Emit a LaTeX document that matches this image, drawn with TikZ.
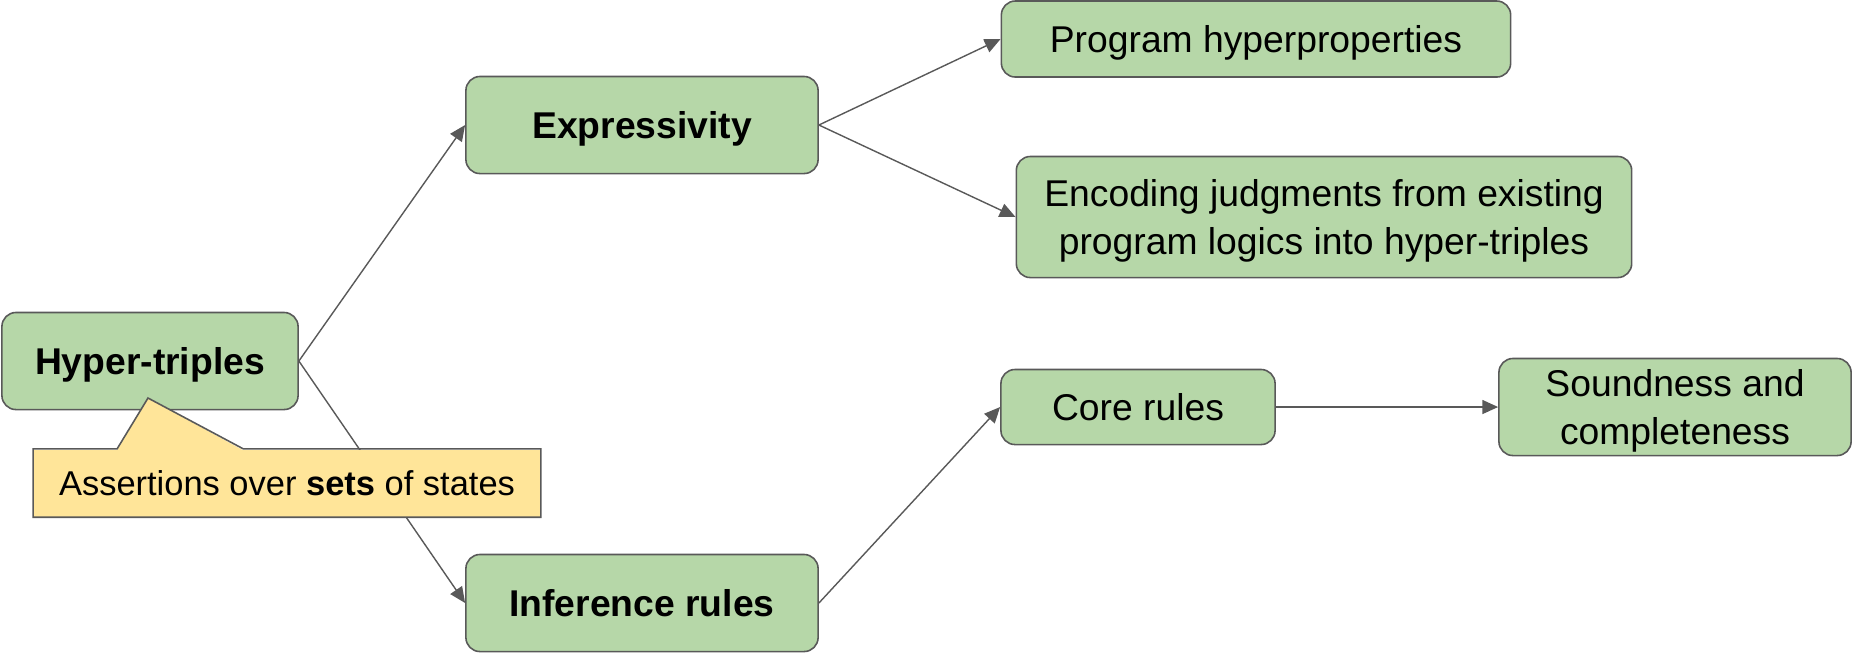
\documentclass[tikz,border=0pt]{standalone}
\usepackage{fontspec}
\setmainfont{Liberation Sans}
\usetikzlibrary{arrows.meta,calc}
\definecolor{boxgreen}{HTML}{B6D7A8}
\definecolor{boxline}{HTML}{595959}
\definecolor{noteyellow}{HTML}{FFE599}

\begin{document}
\begin{tikzpicture}[x=0.01cm, y=-0.01cm,
		topic/.style={draw=boxline, line width=0.45pt, fill=boxgreen, rounded corners=0.14cm, align=center, inner sep=0pt, text depth=0pt, font=\fontsize{10.6pt}{13.4pt}\selectfont},
		link/.style={draw=boxline, line width=0.4pt, -{Triangle[length=4.5pt,width=4pt]}},
		notebox/.style={fill=noteyellow, inner sep=0pt, font=\fontsize{9.8pt}{12pt}\selectfont}]
		%%%%% START %%%%%
		
		\useasboundingbox (0, 0) rectangle (1852, 653);
		
		\node[topic, minimum width=2.96cm, minimum height=0.97cm] (hyper) at (150, 361) {\textbf{Hyper-triples}};
		\node[topic, minimum width=3.52cm, minimum height=0.97cm] (express) at (642, 125) {\textbf{Expressivity}};
		\node[topic, minimum width=3.52cm, minimum height=0.97cm] (infer) at (642, 603) {\textbf{Inference rules}};
		
		\node[topic, minimum width=5.09cm, minimum height=0.76cm] (hyperprop) at (1256, 39) {Program hyperproperties};
		\node[topic, minimum width=6.15cm, minimum height=1.21cm] (encode) at (1324, 217) {Encoding judgments from existing\\program logics into hyper-triples};
		\node[topic, minimum width=2.74cm, minimum height=0.75cm] (core) at (1138, 407) {Core rules};
		\node[topic, minimum width=3.52cm, minimum height=0.97cm] (sound) at (1675, 407) {Soundness and\\completeness};
		
		\draw[link] (hyper.east) -- (express.west);
		\draw[link] (hyper.east) -- (infer.west);
		\draw[link] (express.east) -- (hyperprop.west);
		\draw[link] (express.east) -- (encode.west);
		\draw[link] (infer.east) -- (core.west);
		\draw[link] (core.east) -- (sound.west);
		
		% callout over the hyper-triples box
		\node[notebox, minimum width=5.06cm, minimum height=0.67cm] (note) at (287, 483) {Assertions over \textbf{sets} of states};
		\coordinate (tip) at (148, 398);
		\fill[noteyellow] ($(note.north west)+(84, 1.5)$) -- (tip) -- ($(note.north west)+(210, 1.5)$) -- cycle;
		\draw[boxline, line width=0.45pt] (note.north west) -- ++(84, 0) -- (tip) -- ($(note.north west)+(210, 0)$) -- (note.north east) -- (note.south east) -- (note.south west) -- cycle;
		
		%%%%% END %%%%%
	\end{tikzpicture}
\end{document}
